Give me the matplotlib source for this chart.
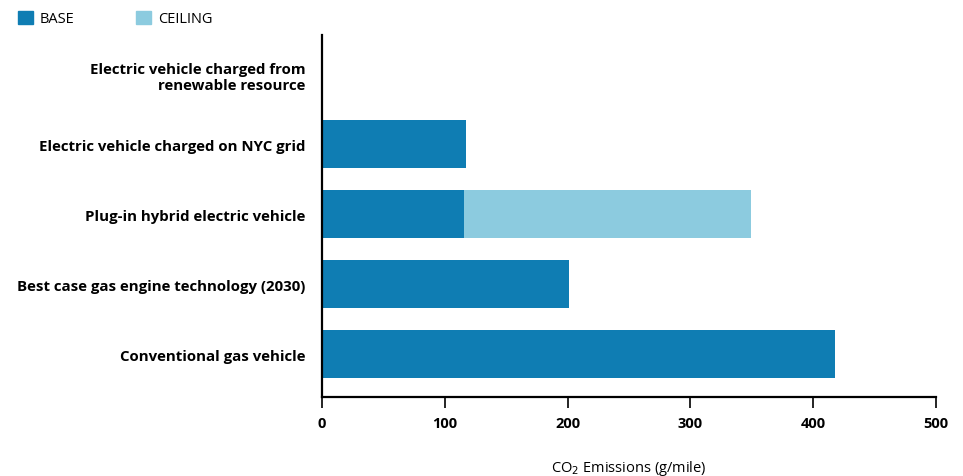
import matplotlib.pyplot as plt
from matplotlib.patches import Patch

categories = ['Conventional gas vehicle',
              'Best case gas engine technology (2030)',
              'Plug-in hybrid electric vehicle',
              'Electric vehicle charged on NYC grid',
              'Electric vehicle charged from\nrenewable resource']
base = [418, 201, 116, 117, 0]
ceiling = [0, 0, 233, 0, 0]

base_color = '#0f7db3'
ceil_color = '#8ccbdf'

plt.rcParams['font.family'] = ['Open Sans', 'DejaVu Sans']

fig = plt.figure(figsize=(9.63, 4.77), dpi=100)
ax = fig.add_axes([0.3344, 0.1656, 0.972 - 0.3344, 0.9245 - 0.1656])

y = range(len(categories))
ax.barh(y, base, height=0.68, color=base_color)
ax.barh(y, ceiling, left=base, height=0.68, color=ceil_color)

ax.set_xlim(0, 500)
ax.set_ylim(-0.614, 4.557)
ax.set_xticks([0, 100, 200, 300, 400, 500])
ax.set_yticks(list(y))
ax.set_yticklabels(categories, fontweight='bold', fontsize=10.8)
for lbl in ax.get_xticklabels():
    lbl.set_fontweight('bold')
    lbl.set_fontsize(10.5)

for s in ['top', 'right']:
    ax.spines[s].set_visible(False)
for s in ['left', 'bottom']:
    ax.spines[s].set_linewidth(1.6)
ax.tick_params(axis='y', length=0, pad=12)
ax.tick_params(axis='x', length=8, width=1.2, pad=6)

ax.set_xlabel('CO$_2$ Emissions (g/mile)', fontsize=10.5, labelpad=20)

handles = [Patch(color=base_color, label='BASE'), Patch(color=ceil_color, label='CEILING')]
fig.legend(handles=handles, loc='upper left', bbox_to_anchor=(0.005, 1.003), ncol=2,
           frameon=False, fontsize=10.5, handlelength=1.05, handleheight=1.05,
           handletextpad=0.45, columnspacing=4.2)

fig.savefig('out.png', dpi=100)
